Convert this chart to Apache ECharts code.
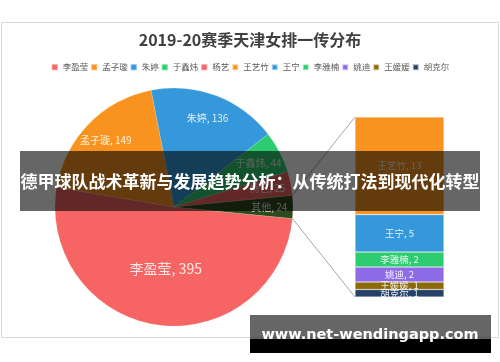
<!DOCTYPE html>
<html><head><meta charset="utf-8">
<script src="https://cdn.jsdelivr.net/npm/echarts@6/dist/echarts.min.js"></script>
<style>html,body{margin:0;padding:0;background:#fff}#c{width:500px;height:362px}</style>
</head><body><div id="c"></div>
<script>
const titleText = '2019-20赛季天津女排一传分布';
const pieNames = ['李盈莹', '孟子璇', '朱婷', '于鑫炜', '杨艺', '其他'];
const pieValues = [395, 149, 136, 44, 25, 24];
const pieColors = ['#f66464', '#f7931e', '#3498db', '#2ecc71', '#f66464', '#2f4a1e'];
const otherNames = ['王艺竹', '王宁', '李雅楠', '姚迪', '王媛媛', '胡克尔'];
const otherValues = [13, 5, 2, 2, 1, 1];
const otherColors = ['#f7931e', '#3498db', '#2ecc71', '#8e6ce8', '#8b6a0a', '#26406b'];
const legendNames = ['李盈莹', '孟子璇', '朱婷', '于鑫炜', '杨艺', '王艺竹', '王宁', '李雅楠', '姚迪', '王媛媛', '胡克尔'];
const bannerText = '德甲球队战术革新与发展趋势分析：从传统打法到现代化转型';
const markText = 'www.net-wendingapp.com';

const CX = 174, CY = 207, R = 119;
const FONT = '"Noto Sans CJK SC", "Noto Sans", sans-serif';
const total = pieValues.reduce((a, b) => a + b, 0);
const otherVal = pieValues[pieValues.length - 1];
const half = otherVal / total * 180;

const chart = echarts.init(document.getElementById('c'), null, {renderer: 'canvas'});

const barSeries = [];
for (let i = otherNames.length - 1; i >= 0; i--) {
  barSeries.push({
    type: 'bar', name: otherNames[i], stack: 'o', barWidth: '100%',
    data: [otherValues[i]],
    itemStyle: {color: otherColors[i], borderColor: 'rgba(255,255,255,0.6)', borderWidth: 0.5},
    label: {show: true, position: 'inside', formatter: '{a}, {c}', color: 'rgba(255,255,255,0.88)', fontSize: 9.5, fontFamily: FONT},
    z: 2
  });
}

chart.setOption({
  animation: false,
  backgroundColor: '#fff',
  title: {text: titleText, left: 'center', top: 27,
    textStyle: {fontSize: 16, fontWeight: 'bold', color: '#404040', fontFamily: FONT}},
  legend: {data: legendNames, top: 58, left: 'center', icon: 'rect', itemWidth: 6, itemHeight: 6, itemGap: 2,
    textStyle: {fontSize: 8.5, color: '#595959', fontFamily: FONT}},
  grid: {left: 355, width: 89, top: 117, height: 180},
  xAxis: {type: 'category', data: ['其他'], show: false},
  yAxis: {type: 'value', min: 0, max: otherVal, show: false},
  series: [{
    type: 'pie', center: [CX, CY], radius: R, startAngle: -half, clockwise: true,
    data: pieNames.map((n, i) => ({name: n, value: pieValues[i], itemStyle: {color: pieColors[i]},
      label: i === 0 ? {fontSize: 14} : {}})),
    label: {show: true, position: 'inside', formatter: '{b}, {c}', color: 'rgba(255,255,255,0.85)', fontSize: 10, fontFamily: FONT},
    labelLine: {show: false},
    labelLayout: function (p) {
      if (p.dataIndex === 0) return {};
      const r = p.labelRect;
      const lx = r.x + r.width / 2, ly = r.y + r.height / 2;
      const dx = lx - CX, dy = ly - CY;
      const d = Math.sqrt(dx * dx + dy * dy) || 1;
      const k = (R * 0.8) / d;
      return {dx: dx * (k - 1), dy: dy * (k - 1)};
    },
    itemStyle: {borderColor: 'rgba(255,255,255,0.3)', borderWidth: 0.5}
  }].concat(barSeries)
});

const yTop = chart.convertToPixel({gridIndex: 0}, [0, otherVal])[1];
const yBot = chart.convertToPixel({gridIndex: 0}, [0, 0])[1];
const a = half * Math.PI / 180;
const px = CX + R * Math.cos(a);
chart.setOption({
  graphic: [
    {type: 'rect', shape: {x: 1.5, y: 22.5, width: 497, height: 315}, style: {fill: 'none', stroke: '#d9d9d9', lineWidth: 1}, z: -10, silent: true},
    {type: 'line', shape: {x1: px, y1: CY - R * Math.sin(a), x2: 355, y2: yTop}, style: {stroke: '#a6a6a6', lineWidth: 1}, z: 1},
    {type: 'line', shape: {x1: px, y1: CY + R * Math.sin(a), x2: 355, y2: yBot}, style: {stroke: '#a6a6a6', lineWidth: 1}, z: 1},
    {type: 'rect', shape: {x: 20, y: 151, width: 460, height: 60}, style: {fill: 'rgba(0,0,0,0.6)'}, z: 100},
    {type: 'text', x: 250, y: 182, style: {text: bannerText, fill: '#fff', font: 'bold 17px ' + FONT, textAlign: 'center', textVerticalAlign: 'middle'}, z: 101},
    {type: 'rect', shape: {x: 250, y: 315, width: 241, height: 24}, style: {fill: 'rgba(0,0,0,0.6)'}, z: 100},
    {type: 'rect', shape: {x: 250, y: 339, width: 241, height: 14}, style: {fill: '#000'}, z: 100},
    {type: 'text', x: 370, y: 335, style: {text: markText, fill: '#fff', font: 'bold 14.5px "DejaVu Sans", sans-serif', textAlign: 'center', textVerticalAlign: 'middle'}, z: 101}
  ]
});
</script></body></html>
